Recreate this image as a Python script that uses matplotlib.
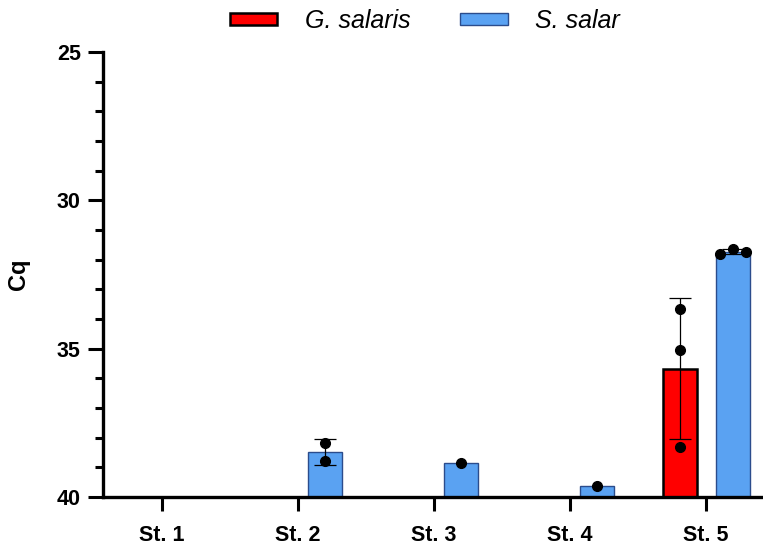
import numpy as np
import matplotlib.pyplot as plt
from matplotlib.ticker import MultipleLocator

# ===== data (Cq per station) =====
STATIONS = ["St. 1", "St. 2", "St. 3", "St. 4", "St. 5"]
SERIES = ["G. salaris", "S. salar"]

# replicate Cq values, empty = not detected
G_SALARIS = [[], [], [], [], [33.67, 35.04, 38.30]]
S_SALAR = [[], [38.17, 38.79], [38.87], [39.62], [31.81, 31.64, 31.74]]

COLORS = {"G. salaris": "#FF0000", "S. salar": "#5AA2F2"}
EDGES = {"G. salaris": "black", "S. salar": "#2B4C8C"}
OFFSETS = {"G. salaris": -0.19, "S. salar": 0.2}

BASE = 40
BAR_W = 0.25

plt.rcParams["font.family"] = ["Liberation Sans", "DejaVu Sans"]

fig = plt.figure(figsize=(7.63, 5.5), dpi=100)
ax = fig.add_axes([103 / 763, 53 / 550, 660 / 763, 445 / 550])

x = np.arange(len(STATIONS))
handles = []
for name, reps in zip(SERIES, [G_SALARIS, S_SALAR]):
    first = True
    for i, vals in enumerate(reps):
        if not vals:
            continue
        vals = np.array(vals)
        m = vals.mean()
        xc = x[i] + OFFSETS[name]
        b = ax.bar(xc, m - BASE, bottom=BASE, width=BAR_W, color=COLORS[name],
                   edgecolor=EDGES[name], linewidth=1.8 if name == "G. salaris" else 1.0,
                   zorder=2)
        if first:
            handles.append(b)
            first = False
        if len(vals) > 1:
            sd = vals.std(ddof=1)
            ax.errorbar(xc, m, yerr=sd, fmt="none", ecolor="black", elinewidth=0.9,
                        capsize=8, capthick=0.9, zorder=3)
        # spread overlapping dots sideways like a scatter-dot plot
        if len(vals) > 1 and np.ptp(vals) < 0.4:
            dx = np.linspace(-0.095, 0.095, len(vals))
        else:
            dx = np.zeros(len(vals))
        ax.plot(xc + dx, vals, "o", color="black", markersize=7, zorder=4)

ax.set_ylim(40, 25)
ax.set_xlim(-0.43, 4.42)
ax.yaxis.set_major_locator(MultipleLocator(5))
ax.yaxis.set_minor_locator(MultipleLocator(1))
ax.set_xticks(x)
ax.set_xticklabels(STATIONS, fontsize=15.5, fontweight="bold")
for lab in ax.get_yticklabels():
    lab.set_fontsize(15.5)
    lab.set_fontweight("bold")
ax.tick_params(axis="y", which="major", length=11, width=2.2, pad=5)
ax.tick_params(axis="y", which="minor", length=6, width=2.2)
ax.tick_params(axis="x", which="major", length=10, width=2.2, pad=10)
ax.set_ylabel("Cq", fontsize=17, fontweight="bold")
ax.yaxis.set_label_coords(-(103 - 30) / 660, 0.5)

for s in ["top", "right"]:
    ax.spines[s].set_visible(False)
for s in ["left", "bottom"]:
    ax.spines[s].set_linewidth(2.4)

leg = fig.legend(handles, SERIES, loc="center", bbox_to_anchor=(425 / 763, 1 - 21 / 550),
                 ncol=2, frameon=False, handlelength=1.9, handleheight=0.32,
                 columnspacing=2.0, handletextpad=1.1,
                 prop={"size": 18, "style": "italic"})

fig.savefig("out.png", dpi=100)
